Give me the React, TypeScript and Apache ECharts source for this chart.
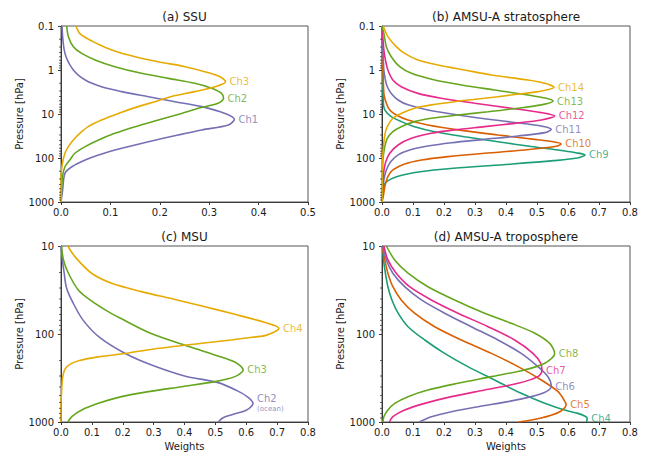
import React, { useEffect, useRef } from 'react';
import * as echarts from 'echarts';

const FONT = "'DejaVu Sans', sans-serif";
const TEAL = '#1b9e77';
const ORANGE = '#d95f02';
const PURPLE = '#7570b3';
const PINK = '#e7298a';
const GREEN = '#66a61e';
const YELLOW = '#e6ab02';
const AXIS = '#3a3a3a';
const TXT = '#1a1a1a';

// ---------- (a) SSU : [weight, pressure hPa] ----------
const ssuCh1 = [[0.002,0.1],[0.008,0.42],[0.025,1],[0.049,1.69],[0.082,2.4],[0.123,3.1],[0.177,4.04],[0.231,5.25],[0.285,6.8],[0.332,9.7],[0.351,13.2],[0.339,17.8],[0.285,23],[0.237,30],[0.177,42.6],[0.123,60],[0.076,85],[0.049,111],[0.022,158],[0.008,223],[0.003,570],[0,1000]];
const ssuCh2 = [[0.0115,0.1],[0.015,0.175],[0.025,0.295],[0.042,0.42],[0.069,0.59],[0.109,0.84],[0.163,1.19],[0.217,1.55],[0.271,2.0],[0.305,2.6],[0.325,3.4],[0.329,4.4],[0.318,5.7],[0.278,7.4],[0.244,9.7],[0.197,13.7],[0.15,19.4],[0.109,27.5],[0.076,39],[0.049,55],[0.028,78],[0.018,111],[0.008,158],[0.003,266],[0,1000]];
const ssuCh3 = [[0.03,0.1],[0.038,0.147],[0.052,0.19],[0.072,0.248],[0.103,0.35],[0.15,0.5],[0.197,0.65],[0.251,0.84],[0.291,1.09],[0.322,1.42],[0.333,1.85],[0.312,2.4],[0.271,3.1],[0.224,4.0],[0.19,5.25],[0.156,6.8],[0.116,9.7],[0.082,13.7],[0.055,19.4],[0.038,27.5],[0.025,39],[0.015,55],[0.008,78],[0.003,130],[0,266],[0,1000]];

// ---------- (b) AMSU-A stratosphere ----------
const strCh14 = [[0.004,0.1],[0.019,0.175],[0.046,0.295],[0.073,0.42],[0.116,0.59],[0.181,0.77],[0.267,1.0],[0.353,1.3],[0.471,1.69],[0.525,2.0],[0.555,2.47],[0.503,3.1],[0.417,3.7],[0.331,4.4],[0.234,5.25],[0.159,6.2],[0.105,7.4],[0.062,9.7],[0.035,12.5],[0.017,19.4],[0.009,30],[0.003,78],[0,200],[0,1000]];
const strCh13 = [[0,0.1],[0.006,0.147],[0.014,0.295],[0.03,0.5],[0.057,0.84],[0.095,1.19],[0.17,1.69],[0.256,2.19],[0.363,2.85],[0.471,3.7],[0.53,4.4],[0.552,5.07],[0.514,6.2],[0.439,7.4],[0.342,8.9],[0.245,10.5],[0.159,12.5],[0.105,14.9],[0.062,19.4],[0.035,25.2],[0.017,35.7],[0.009,55],[0.003,111],[0,1000]];
const strCh12 = [[0,0.1],[0.006,0.35],[0.011,0.59],[0.019,1.0],[0.035,1.69],[0.062,2.4],[0.116,3.4],[0.191,4.4],[0.299,5.7],[0.417,7.4],[0.514,9.3],[0.557,11.1],[0.514,13.7],[0.428,16.3],[0.331,19.4],[0.234,23],[0.159,27.5],[0.095,35.7],[0.052,50.7],[0.025,78],[0.011,130],[0.004,266],[0,1000]];
const strCh11 = [[0,0.1],[0.006,1.0],[0.011,1.69],[0.017,2.4],[0.03,3.4],[0.052,4.8],[0.084,6.2],[0.148,8.1],[0.245,10.5],[0.363,13.7],[0.471,16.9],[0.525,19.4],[0.546,22.3],[0.525,26.5],[0.439,31.6],[0.331,37.7],[0.224,44.9],[0.148,53.4],[0.089,65.8],[0.052,85],[0.028,121],[0.014,187],[0.006,316],[0.003,530],[0,1000]];
const strCh10 = [[0,0.1],[0.006,3.4],[0.014,5.7],[0.025,8.1],[0.046,10.5],[0.084,13.7],[0.148,17.8],[0.245,23],[0.374,30],[0.493,37.7],[0.557,43.3],[0.578,48],[0.557,55],[0.46,65.8],[0.331,78],[0.213,93],[0.127,111],[0.073,137],[0.035,187],[0.019,266],[0.009,450],[0.004,750],[0,1000]];
const strCh9 = [[0,0.1],[0.004,5],[0.009,8.1],[0.03,11.5],[0.062,14.9],[0.105,19.4],[0.17,25.2],[0.267,32.8],[0.374,42.6],[0.482,55],[0.568,65.8],[0.625,76],[0.655,85],[0.63,100],[0.553,115],[0.42,137],[0.23,171],[0.123,205],[0.047,266],[0.015,346],[0.004,449],[0,1000]];

// ---------- (c) MSU ----------
const msuCh4 = [[0.022,10],[0.045,13.2],[0.099,20.4],[0.164,26.5],[0.261,33],[0.369,40.5],[0.45,47.5],[0.557,59],[0.667,75],[0.706,86],[0.666,103],[0.62,109],[0.55,117],[0.45,128],[0.3,148],[0.2,168],[0.12,182],[0.06,200],[0.03,220],[0.013,250],[0.005,318],[0.002,453],[0,600],[0,1000]];
const msuCh3 = [[0.002,10],[0.008,14.4],[0.024,20.4],[0.056,31.6],[0.094,41],[0.15,55],[0.191,65.8],[0.288,97.5],[0.417,140],[0.498,173],[0.563,208],[0.59,256],[0.563,305],[0.498,348],[0.391,397],[0.283,452],[0.196,515],[0.121,614],[0.067,731],[0.035,871],[0.022,1000]];
const msuCh2 = [[0,10],[0.004,14],[0.01,20],[0.018,30],[0.04,45],[0.072,70],[0.126,110],[0.213,170],[0.3,230],[0.4,300],[0.509,357],[0.57,440],[0.605,520],[0.622,614],[0.601,731],[0.558,818],[0.525,893],[0.509,1000]];

// ---------- (d) AMSU-A troposphere ----------
const troCh8 = [[0.014,10],[0.041,14.4],[0.084,20.4],[0.148,29],[0.234,41],[0.331,58],[0.417,75.7],[0.493,98],[0.541,128],[0.557,166],[0.525,215],[0.46,256],[0.353,305],[0.245,363],[0.148,433],[0.084,515],[0.041,614],[0.019,731],[0.006,871],[0.003,1000]];
const troCh7 = [[0.006,10],[0.019,14.4],[0.046,20.4],[0.089,29],[0.159,41],[0.245,58],[0.342,82.6],[0.428,117],[0.487,166],[0.512,215],[0.516,261],[0.503,305],[0.439,363],[0.331,433],[0.224,515],[0.138,614],[0.073,731],[0.035,871],[0.024,1000]];
const troCh6 = [[0.002,10],[0.014,14.4],[0.035,20.4],[0.073,29],[0.127,41],[0.202,58],[0.288,82.6],[0.374,117],[0.449,166],[0.503,235],[0.535,305],[0.546,390],[0.53,452],[0.482,515],[0.406,587],[0.31,670],[0.224,764],[0.159,871],[0.12,1000]];
const troCh5 = [[0,10],[0.009,14.4],[0.019,20.4],[0.035,29],[0.062,41],[0.105,58],[0.17,82.6],[0.256,117],[0.353,166],[0.439,235],[0.514,333],[0.568,452],[0.587,562],[0.594,635],[0.574,764],[0.51,908],[0.44,1000]];
const troCh4 = [[0.002,10],[0.005,14.4],[0.011,20.4],[0.019,29],[0.032,41],[0.052,58],[0.084,82.6],[0.138,117],[0.202,166],[0.277,235],[0.363,333],[0.449,472],[0.525,614],[0.589,731],[0.632,798],[0.655,860],[0.662,905],[0.66,1000]];

// axis settings
const titles = ['(a) SSU', '(b) AMSU-A stratosphere', '(c) MSU', '(d) AMSU-A troposphere'];
const xMaxes = [0.5, 0.8, 0.8, 0.8];
const yMins = [0.1, 0.1, 10, 10];
const minorTicksWide = [0.2,0.3,0.4,0.5,0.6,0.7,0.8,0.9,2,3,4,5,6,7,8,9,20,30,40,50,60,70,80,90,200,300,400,500,600,700,800,900];
const minorTicksNarrow = [20,30,40,50,60,70,80,90,200,300,400,500,600,700,800,900];

const panels = [
  [
    { name: 'Ch1', color: PURPLE, data: ssuCh1 },
    { name: 'Ch2', color: GREEN, data: ssuCh2 },
    { name: 'Ch3', color: YELLOW, data: ssuCh3 },
  ],
  [
    { name: 'Ch9', color: TEAL, data: strCh9 },
    { name: 'Ch10', color: ORANGE, data: strCh10 },
    { name: 'Ch11', color: PURPLE, data: strCh11 },
    { name: 'Ch12', color: PINK, data: strCh12 },
    { name: 'Ch13', color: GREEN, data: strCh13 },
    { name: 'Ch14', color: YELLOW, data: strCh14 },
  ],
  [
    { name: 'Ch2', color: PURPLE, data: msuCh2, note: '(ocean)' },
    { name: 'Ch3', color: GREEN, data: msuCh3 },
    { name: 'Ch4', color: YELLOW, data: msuCh4 },
  ],
  [
    { name: 'Ch4', color: TEAL, data: troCh4 },
    { name: 'Ch5', color: ORANGE, data: troCh5 },
    { name: 'Ch6', color: PURPLE, data: troCh6 },
    { name: 'Ch7', color: PINK, data: troCh7 },
    { name: 'Ch8', color: GREEN, data: troCh8 },
  ],
];

const grids = [
  { left: 61, top: 26, width: 247, height: 176 },
  { left: 382, top: 26, width: 248, height: 176 },
  { left: 61, top: 246, width: 247, height: 176 },
  { left: 382, top: 246, width: 248, height: 176 },
];

function peakOf(data: number[][]) {
  let best = data[0];
  for (const d of data) if (d[0] > best[0]) best = d;
  return best;
}

function buildOption() {
  const series: any[] = [];
  panels.forEach((curves, gi) => {
    curves.forEach((c: any) => {
      series.push({
        type: 'line',
        name: c.name,
        xAxisIndex: gi,
        yAxisIndex: gi,
        data: c.data,
        symbol: 'none',
        smooth: 0.3,
        lineStyle: { color: c.color, width: 1.6 },
        silent: true,
        z: 3,
      });
      const pk = peakOf(c.data);
      series.push({
        type: 'scatter',
        xAxisIndex: gi,
        yAxisIndex: gi,
        data: [pk],
        symbolSize: 0,
        silent: true,
        z: 4,
        label: c.note
          ? {
              show: true,
              position: 'right',
              distance: 4,
              formatter: '{a|' + c.name + '}\n{b|' + c.note + '}',
              rich: {
                a: { fontSize: 10, color: c.color, fontFamily: FONT, lineHeight: 11 },
                b: { fontSize: 7, color: c.color, fontFamily: FONT, lineHeight: 9 },
              },
            }
          : {
              show: true,
              position: 'right',
              distance: 4,
              formatter: c.name,
              color: c.color,
              fontSize: 10,
              fontFamily: FONT,
            },
      });
    });
    const minor = gi < 2 ? minorTicksWide : minorTicksNarrow;
    series.push({
      type: 'custom',
      xAxisIndex: gi,
      yAxisIndex: gi,
      data: minor.map((v) => [0, v]),
      clip: false,
      silent: true,
      z: 6,
      renderItem: (params: any, api: any) => {
        const pt = api.coord([api.value(0), api.value(1)]);
        return {
          type: 'line',
          shape: { x1: pt[0] - 2, y1: pt[1], x2: pt[0], y2: pt[1] },
          style: { stroke: AXIS, lineWidth: 0.8 },
        };
      },
    });
  });

  const xAxis = grids.map((g, gi) => ({
    type: 'value',
    gridIndex: gi,
    min: 0,
    max: xMaxes[gi],
    interval: 0.1,
    axisLine: { show: true, lineStyle: { color: AXIS, width: 1 } },
    axisTick: { show: true, inside: false, length: 3, lineStyle: { color: AXIS } },
    axisLabel: {
      fontSize: 10,
      color: TXT,
      fontFamily: FONT,
      margin: 5,
      showMinLabel: true,
      showMaxLabel: true,
      formatter: (v: number) => v.toFixed(1),
    },
    splitLine: { show: false },
    name: gi >= 2 ? 'Weights' : '',
    nameLocation: 'middle',
    nameGap: 19,
    nameTextStyle: { fontSize: 10, color: TXT, fontFamily: FONT },
  }));

  const yAxis = grids.map((g, gi) => ({
    type: 'log',
    logBase: 10,
    gridIndex: gi,
    min: yMins[gi],
    max: 1000,
    inverse: true,
    axisLine: { show: true, lineStyle: { color: AXIS, width: 1 } },
    axisTick: { show: true, inside: false, length: 3, lineStyle: { color: AXIS } },
    axisLabel: {
      fontSize: 10,
      color: TXT,
      fontFamily: FONT,
      margin: 7,
      showMinLabel: true,
      showMaxLabel: true,
      formatter: (v: number) => String(Number(Number(v).toPrecision(3))),
    },
    splitLine: { show: false },
    minorTick: { show: false },
    name: 'Pressure [hPa]',
    nameLocation: 'middle',
    nameGap: 35,
    nameRotate: 90,
    nameTextStyle: { fontSize: 10, color: TXT, fontFamily: FONT },
  }));

  const graphic = titles.map((t, gi) => ({
    type: 'text',
    x: grids[gi].left + grids[gi].width / 2,
    y: gi < 2 ? 17 : 237,
    silent: true,
    style: {
      text: t,
      fontSize: 12,
      fontFamily: FONT,
      fill: TXT,
      align: 'center',
      verticalAlign: 'middle',
    },
  }));

  return {
    animation: false,
    backgroundColor: '#ffffff',
    grid: grids.map((g) => ({
      ...g,
      show: true,
      borderColor: '#555',
      borderWidth: 1,
      backgroundColor: 'transparent',
      containLabel: false,
    })),
    xAxis,
    yAxis,
    graphic,
    series,
  };
}

export default function App() {
  const ref = useRef<HTMLDivElement>(null);
  useEffect(() => {
    if (!ref.current) return;
    const chart = echarts.init(ref.current, undefined, { renderer: 'svg' });
    chart.setOption(buildOption() as any);
    return () => chart.dispose();
  }, []);
  return (
    <div
      ref={ref}
      style={{ position: 'fixed', left: 0, top: 0, width: 649, height: 452, background: '#fff' }}
    />
  );
}
